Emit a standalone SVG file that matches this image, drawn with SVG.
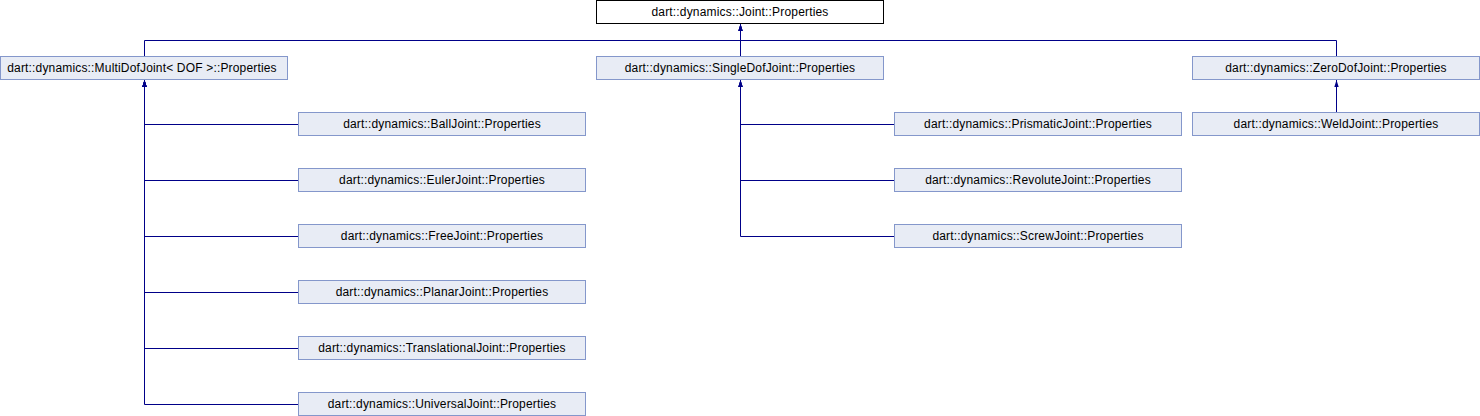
<svg xmlns="http://www.w3.org/2000/svg" width="1480" height="416" viewBox="0 0 1480 416">
<style>
.n rect{fill:#E8ECF5;stroke:#8497CB;stroke-width:1}
.root rect{fill:#FFFFFF;stroke:#000000;stroke-width:1}
text{font-family:"Liberation Sans",Arial,sans-serif;font-size:12px;letter-spacing:0.17px;fill:#000000;text-anchor:middle}
.e path{fill:none;stroke:#000088;stroke-width:1;marker-end:url(#ah)}
</style>
<defs>
<marker id="ah" markerUnits="userSpaceOnUse" markerWidth="7" markerHeight="6" viewBox="0 0 7 6" refX="7" refY="3" orient="auto">
<path d="M0,0.8 L7,3 L0,5.2 Z" fill="#000088"/>
</marker>
</defs>
<rect x="0" y="0" width="1480" height="416" fill="#FFFFFF"/>
<g class="e" id="connectors">
<path d="M144.5,56 V40.5 H740.5 V24"/>
<path d="M740.5,56 V24"/>
<path d="M1336.5,56 V40.5 H740.5 V24"/>
<path d="M298,124.5 H144.5 V80"/>
<path d="M298,180.5 H144.5 V80"/>
<path d="M298,236.5 H144.5 V80"/>
<path d="M298,292.5 H144.5 V80"/>
<path d="M298,348.5 H144.5 V80"/>
<path d="M298,404.5 H144.5 V80"/>
<path d="M894,124.5 H740.5 V80"/>
<path d="M894,180.5 H740.5 V80"/>
<path d="M894,236.5 H740.5 V80"/>
<path d="M1336.5,112 V80"/>
</g>
<g id="joint" class="root"><rect x="596.5" y="0.5" width="287" height="23"/><text x="740" y="16">dart::dynamics::Joint::Properties</text></g>
<g id="multidof" class="n"><rect x="0.5" y="56.5" width="287" height="23"/><text x="142" y="72">dart::dynamics::MultiDofJoint&lt; DOF &gt;::Properties</text></g>
<g id="singledof" class="n"><rect x="596.5" y="56.5" width="287" height="23"/><text x="740" y="72">dart::dynamics::SingleDofJoint::Properties</text></g>
<g id="zerodof" class="n"><rect x="1192.5" y="56.5" width="287" height="23"/><text x="1336" y="72">dart::dynamics::ZeroDofJoint::Properties</text></g>
<g id="ball" class="n"><rect x="298.5" y="112.5" width="287" height="23"/><text x="442" y="128">dart::dynamics::BallJoint::Properties</text></g>
<g id="euler" class="n"><rect x="298.5" y="168.5" width="287" height="23"/><text x="442" y="184">dart::dynamics::EulerJoint::Properties</text></g>
<g id="free" class="n"><rect x="298.5" y="224.5" width="287" height="23"/><text x="442" y="240">dart::dynamics::FreeJoint::Properties</text></g>
<g id="planar" class="n"><rect x="298.5" y="280.5" width="287" height="23"/><text x="442" y="296">dart::dynamics::PlanarJoint::Properties</text></g>
<g id="translational" class="n"><rect x="298.5" y="336.5" width="287" height="23"/><text x="442" y="352">dart::dynamics::TranslationalJoint::Properties</text></g>
<g id="universal" class="n"><rect x="298.5" y="392.5" width="287" height="23"/><text x="442" y="408">dart::dynamics::UniversalJoint::Properties</text></g>
<g id="prismatic" class="n"><rect x="894.5" y="112.5" width="287" height="23"/><text x="1038" y="128">dart::dynamics::PrismaticJoint::Properties</text></g>
<g id="revolute" class="n"><rect x="894.5" y="168.5" width="287" height="23"/><text x="1038" y="184">dart::dynamics::RevoluteJoint::Properties</text></g>
<g id="screw" class="n"><rect x="894.5" y="224.5" width="287" height="23"/><text x="1038" y="240">dart::dynamics::ScrewJoint::Properties</text></g>
<g id="weld" class="n"><rect x="1192.5" y="112.5" width="287" height="23"/><text x="1336" y="128">dart::dynamics::WeldJoint::Properties</text></g>
</svg>
